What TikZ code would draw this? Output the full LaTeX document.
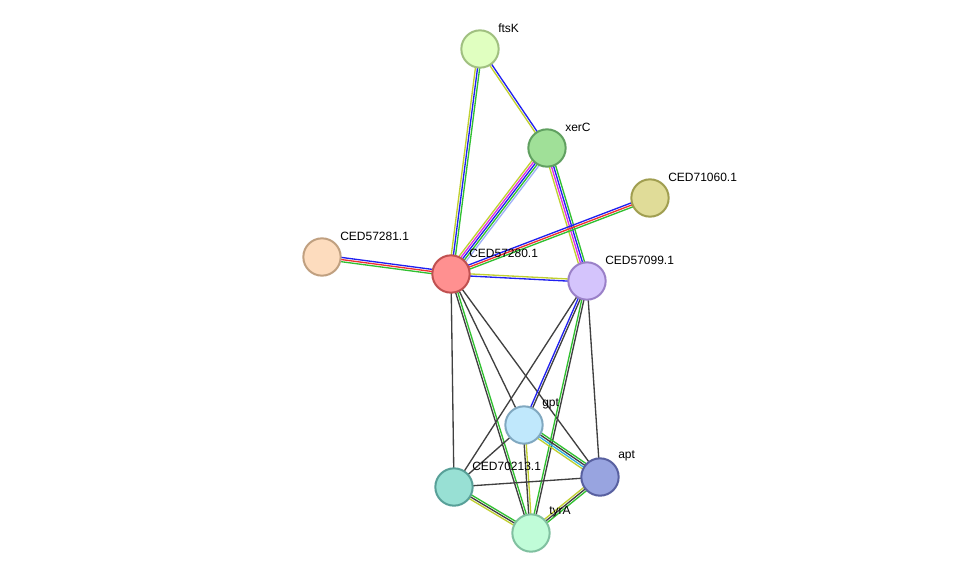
\documentclass[tikz,border=0pt]{standalone}
\usepackage{fontspec}
\setmainfont{Liberation Sans}
\usetikzlibrary{calc}
\definecolor{xg}{HTML}{30C030}
\definecolor{xb}{HTML}{2020F0}
\definecolor{xy}{HTML}{C0D030}
\definecolor{xr}{HTML}{F03030}
\definecolor{xm}{HTML}{E030E0}
\definecolor{xl}{HTML}{A0B0F8}
\definecolor{xc}{HTML}{30B0E0}
\definecolor{xk}{HTML}{404040}
\newcommand\sedge[4]{%
  \foreach[count=\i] \c in {#4} {%
    \pgfmathsetmacro\off{(\i-(#3+1)/2)*1.6}
    \draw[draw=\c,line width=1pt] ($(#1.center)!\off pt!90:(#2.center)$) -- ($(#2.center)!\off pt!-90:(#1.center)$);
  }}
\tikzset{prot/.style={circle,minimum size=28pt,inner sep=0pt,line width=1.5pt},
lab/.style={anchor=west,font=\fontsize{9}{10}\selectfont,inner sep=0pt}}
\begin{document}
\begin{tikzpicture}[x=0.75pt,y=-0.75pt]
\useasboundingbox (0,0) rectangle (976,579);
\path
 (480,49) coordinate (ftsK)
 (547,148) coordinate (xerC)
 (650,198) coordinate (c71060)
 (322,257) coordinate (c57281)
 (451,274) coordinate (c57280)
 (587,281) coordinate (c57099)
 (524,425) coordinate (gpt)
 (454,487) coordinate (c70213)
 (600,477) coordinate (apt)
 (531,533) coordinate (tyrA);
\sedge{ftsK}{c57280}{3}{xy,xb,xg}
\sedge{ftsK}{xerC}{2}{xy,xb}
\sedge{xerC}{c57280}{5}{xy,xm,xb,xg,xl}
\sedge{xerC}{c57099}{4}{xy,xm,xb,xg}
\sedge{c71060}{c57280}{3}{xb,xr,xg}
\sedge{c57281}{c57280}{3}{xg,xr,xb}
\sedge{c57280}{c57099}{2}{xb,xy}
\sedge{c57280}{c70213}{1}{xk}
\sedge{c57280}{tyrA}{2}{xk,xg}
\sedge{c57280}{gpt}{1}{xk}
\sedge{c57280}{apt}{1}{xk}
\sedge{c57099}{c70213}{1}{xk}
\sedge{c57099}{gpt}{2}{xb,xk}
\sedge{c57099}{tyrA}{2}{xg,xk}
\sedge{c57099}{apt}{1}{xk}
\sedge{gpt}{apt}{4}{xy,xc,xk,xg}
\sedge{gpt}{tyrA}{2}{xk,xy}
\sedge{gpt}{c70213}{1}{xk}
\sedge{c70213}{apt}{1}{xk}
\sedge{c70213}{tyrA}{3}{xy,xk,xg}
\sedge{apt}{tyrA}{3}{xy,xk,xg}
\foreach \n/\f/\d in {ftsK/E0FFC0/A0C080, xerC/A0E098/60A060, c71060/E0DC98/A09E50, c57281/FDDCBE/C0A080, c57280/FF9090/C05050, c57099/D4C4FC/9A80C8, gpt/C0E8FC/80A8C0, c70213/98E0D4/58A098, apt/98A4E0/5860A0, tyrA/C0FCD8/80C0A0}{
  \definecolor{fc}{HTML}{\f}\definecolor{dc}{HTML}{\d}
  \node[prot,fill=fc,draw=dc] (n\n) at (\n) {};
}
\foreach \n/\t in {ftsK/ftsK, xerC/xerC, c71060/CED71060.1, c57281/CED57281.1, c57280/CED57280.1, c57099/CED57099.1, gpt/gpt, c70213/CED70213.1, apt/apt, tyrA/tyrA}{
  \node[lab] (l\n) at ($(\n)+(18,-21)$) {\t};
}
\end{tikzpicture}
\end{document}
